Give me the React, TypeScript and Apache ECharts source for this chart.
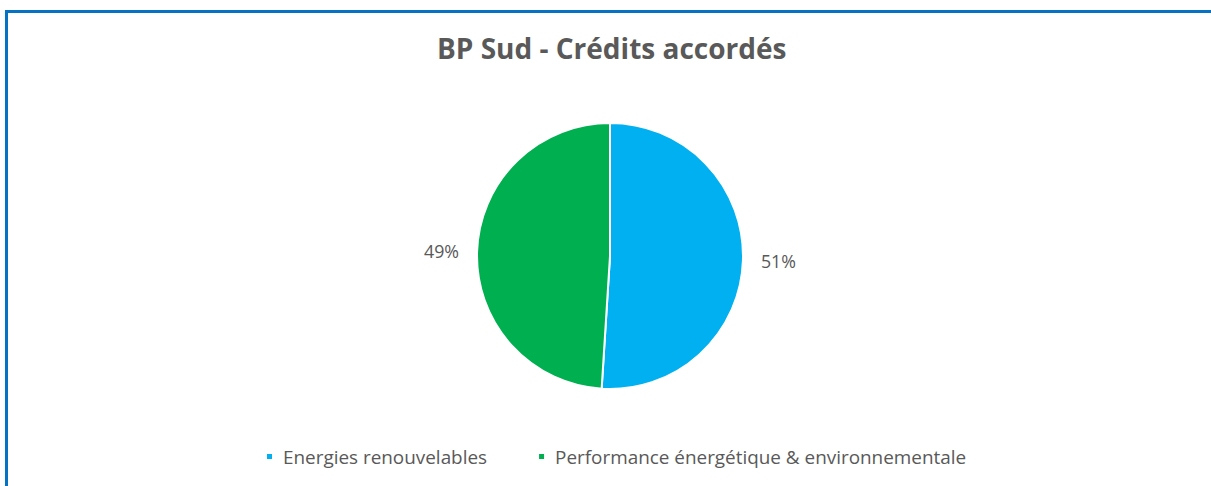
import React, { useEffect, useRef } from "react";
import * as echarts from "echarts";

const categories = ["Energies renouvelables", "Performance énergétique & environnementale"];
const values = [51, 49];
const colors = ["#00B0F0", "#00B050"];
const titleText = "BP Sud - Crédits accordés";

export default function App() {
  const ref = useRef<HTMLDivElement>(null);
  useEffect(() => {
    if (!ref.current) return;
    const chart = echarts.init(ref.current, null, { renderer: "svg" });
    chart.setOption({
      animation: false,
      title: {
        text: titleText,
        left: 432,
        top: 29,
        textStyle: {
          fontFamily: "Open Sans",
          fontWeight: "bold",
          fontSize: 28,
          color: "#595959",
        },
      },
      legend: {
        bottom: 15,
        left: 260,
        icon: "rect",
        itemWidth: 7,
        itemHeight: 7,
        itemGap: 50,
        textStyle: { fontFamily: "Open Sans", fontSize: 18.9, color: "#595959", padding: [0, 0, 0, 5] },
        data: categories,
      },
      series: [
        {
          type: "pie",
          center: [610, 256],
          radius: 133,
          startAngle: 90,
          clockwise: true,
          data: categories.map((name, i) => ({
            name,
            value: values[i],
            itemStyle: { color: colors[i] },
          })),
          itemStyle: { borderColor: "#fff", borderWidth: 2 },
          label: {
            show: true,
            position: "outside",
            formatter: "{d}%",
            fontFamily: "Open Sans",
            fontSize: 17.8,
            color: "#595959",
          },
          labelLine: { show: false, length: 13, length2: 0 },
          emphasis: { disabled: true },
        },
      ],
    });
    return () => chart.dispose();
  }, []);
  return (
    <div style={{ position: "absolute", left: 0, top: 0, width: 1211, height: 486, background: "#fff", overflow: "hidden" }}>
      <div
        style={{
          position: "absolute",
          left: 5,
          top: 10,
          width: 1300,
          height: 600,
          borderLeft: "3px solid #0572C4",
          borderTop: "3px solid #0572C4",
        }}
      />
      <div ref={ref} style={{ position: "absolute", left: 0, top: 0, width: 1211, height: 486 }} />
    </div>
  );
}
